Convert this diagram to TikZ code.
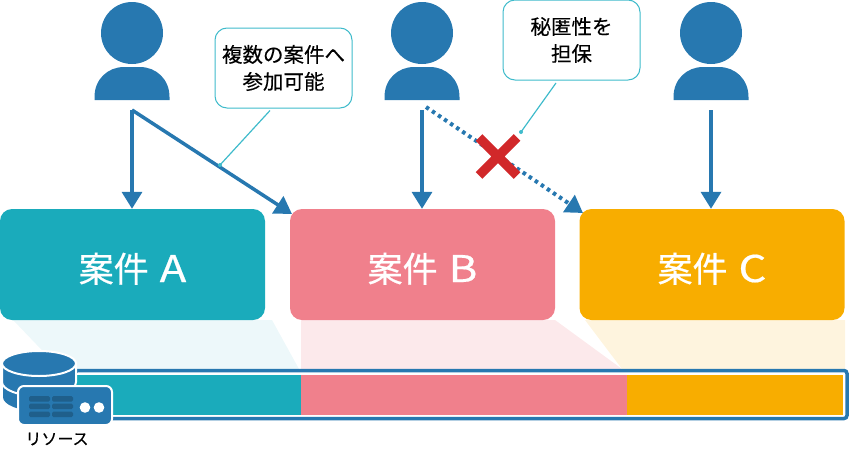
\documentclass[tikz,border=0pt]{standalone}
\usepackage{fontspec}
\setmainfont{Noto Sans CJK JP}[FakeBold=0.25]
\newfontfamily\casefont{Noto Sans CJK JP}[FakeBold=0.5]
\usetikzlibrary{arrows.meta}
\definecolor{blue1}{HTML}{2778B0}
\definecolor{blue2}{HTML}{1F5F8B}
\definecolor{teal1}{HTML}{1AABBB}
\definecolor{pink1}{HTML}{F0808C}
\definecolor{amber1}{HTML}{F8AD00}
\definecolor{cyan1}{HTML}{3FBBCB}
\definecolor{red1}{HTML}{D1282A}
\newcommand{\caselabel}[1]{案件\hspace{11pt}\scalebox{1.25}[1.05]{#1}}
\tikzset{
  case/.style={rounded corners=12pt, minimum width=265pt, minimum height=111pt, inner sep=0pt, text=white, text height=35pt, text depth=0pt, font=\casefont\fontsize{35}{35}\selectfont},
  note/.style={draw=cyan1, line width=1pt, fill=white, rounded corners=12pt, minimum width=137pt, minimum height=80pt, inner sep=0pt, align=center, font=\fontsize{20.5}{27}\selectfont},
  seg/.style={minimum height=40pt, inner sep=0pt},
  head/.style={circle, fill=blue1, minimum size=62pt, inner sep=0pt},
  link/.style={-{Triangle[length=17pt,width=20pt]}, blue1, line width=3.5pt},
  leader/.style={cyan1, line width=1.2pt},
}
\begin{document}
\begin{tikzpicture}[x=1pt,y=-1pt]
\useasboundingbox (0,0) rectangle (849,453);
% shades
\fill[teal1!8!white] (13,320) -- (272,320) -- (299,369) -- (60,369) -- cycle;
\fill[pink1!17!white] (301,320) -- (555,320) -- (622,369) -- (301,369) -- cycle;
\fill[amber1!13!white] (585,320) -- (845,320) -- (845,369) -- (622,369) -- cycle;
% cases
\node (caseA) at (132.5,264.5) [case, fill=teal1] {\caselabel{A}};
\node (caseB) at (422.5,264.5) [case, fill=pink1] {\caselabel{B}};
\node (caseC) at (712,264.5) [case, fill=amber1] {\caselabel{C}};
% bar
\node (bar) at (461,394.5) [draw=blue1, line width=3.5pt, rounded corners=3pt, minimum width=772pt, minimum height=48pt, inner sep=0pt] {};
\node (segA) at (188,395) [seg, fill=teal1, minimum width=226pt] {};
\node (segB) at (464,395) [seg, fill=pink1, minimum width=326pt] {};
\node (segC) at (735,395) [seg, fill=amber1, minimum width=216pt] {};
% users
\foreach \i/\x in {1/132, 2/422, 3/711} {
  \node (head\i) at (\x,33) [head] {};
  \fill[blue1] (\x-37.5,100) -- (\x-37.5,97) .. controls (\x-37.5,79) and (\x-24,67) .. (\x-8,67) -- (\x+8,67) .. controls (\x+24,67) and (\x+37.5,79) .. (\x+37.5,97) -- (\x+37.5,100) -- cycle;
  \coordinate (from\i) at (\x,110);
}
\coordinate (toB) at (292,214);
\coordinate (toC) at (583,213);
\draw[link] (from1) -- (from1 |- caseA.north);
\draw[link] (from1) -- (toB);
\draw[link] (from2) -- (from2 |- caseB.north);
\draw[link, line width=4pt, dash pattern=on 3.5pt off 3.8pt] ([xshift=4pt,yshift=3pt]from2) -- (toC);
\draw[link] (from3) -- (from3 |- caseC.north);
% notes
\node (note1) at (283.5,68) [note] {複数の案件へ\\参加可能};
\node (note2) at (571.5,40) [note] {秘匿性を\\担保};
\coordinate (dot1) at (220,165);
\coordinate (dot2) at (521,132);
\draw[leader] (270,110.5) -- (dot1);
\draw[leader] (556,83) -- (dot2);
\fill[cyan1] (dot1) circle (2pt);
\fill[cyan1] (dot2) circle (2pt);
% cross
\draw[red1, line width=9.5pt] (479,137.5) -- (517,175.5) (517,137.5) -- (479,175.5);
% database
\fill[blue1] (3,385) -- (3,397) .. controls (3,405) and (19,411) .. (39,411) .. controls (59,411) and (75,405) .. (75,397) -- (75,385) -- cycle;
\draw[white, line width=2pt, fill=blue1] (2,363) -- (2,382) .. controls (2,390) and (19,396) .. (39,396) .. controls (59,396) and (76,390) .. (76,382) -- (76,363) -- cycle;
\draw[white, line width=2pt, fill=blue1] (39,363.5) ellipse [x radius=37, y radius=12.5];
\node (server) at (65,405.5) [draw=white, line width=2pt, fill=blue1, rounded corners=6pt, minimum width=94pt, minimum height=39pt, inner sep=0pt] {};
\foreach \y in {396,403.5,411.5} {
  \fill[blue2, rounded corners=1.5pt] (29,\y) rectangle (50,\y+5.5);
  \fill[blue2, rounded corners=1.5pt] (52,\y) rectangle (73,\y+5.5);
}
\fill[white] (85,407.5) circle (5.3pt) (99,407.5) circle (5.3pt);
\node (resource) at (57,439) [inner sep=0pt, font=\fontsize{16}{16}\selectfont] {リソース};
\end{tikzpicture}
\end{document}
